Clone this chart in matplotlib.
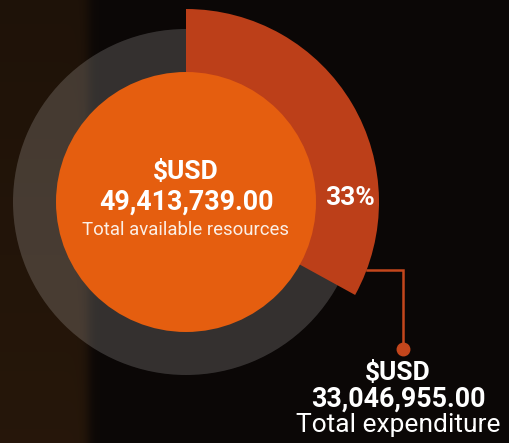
import numpy as np
import matplotlib
matplotlib.use("Agg")
import matplotlib.pyplot as plt
from matplotlib.patches import Circle

# ---- data ----
share_labels = ["Total expenditure", "Remaining"]
share_pct = [33, 67]
center_lines = ["$USD", "49,413,739.00", "Total available resources"]
callout_lines = ["$USD", "33,046,955.00", "Total expenditure"]
pct_label = "33%"

# ---- styling ----
W, H = 510, 443
C_WEDGE = "#BC3F19"
C_INNER = "#E55E0F"
C_LINE = "#C4461C"
FONT = "Roboto"

fig = plt.figure(figsize=(W / 100, H / 100), dpi=100)
ax = fig.add_axes([0, 0, 1, 1])

# background (dark photo-like backdrop)
xx = np.arange(W)[None, :]
yy = np.arange(H)[:, None]
base = np.array([0.045, 0.03, 0.025])
brown = np.array([0.15, 0.09, 0.04])
left = 1 / (1 + np.exp((xx - 88) / 3.0))
grad = 0.8 + 0.2 * (yy / H)
bg = base * (1 - left[..., None]) + (brown * grad[..., None]) * left[..., None]
bg = np.clip(bg, 0, 1)
ax.imshow(bg, extent=[0, W, 0, H], origin="upper", zorder=0)

cx, cy = 186, H - 202
r_outer, r_ring, r_inner = 193, 173, 130

# gray translucent ring
ax.pie([100], radius=r_ring, center=(cx, cy), colors=["white"],
       wedgeprops=dict(alpha=0.17, linewidth=0), startangle=90, frame=True)
# expenditure wedge
wedges, _ = ax.pie(share_pct, radius=r_outer, center=(cx, cy),
                   colors=[C_WEDGE, "none"], startangle=90, counterclock=False,
                   wedgeprops=dict(linewidth=0), frame=True)
ax.set_xlim(0, W)
ax.set_ylim(0, H)
ax.set_aspect("equal")
ax.axis("off")

# inner circle
ax.add_patch(Circle((cx, cy), r_inner, color=C_INNER, lw=0, zorder=5))

# center text
ax.text(cx, H - 172, center_lines[0], ha="center", va="center", color="white",
        fontsize=19, fontweight="bold", family=FONT, zorder=6)
ax.text(cx, H - 202, center_lines[1], ha="center", va="center", color="white",
        fontsize=19.3, fontweight="bold", family=FONT, zorder=6)
ax.text(cx, H - 230, center_lines[2], ha="center", va="center", color="#FBEFE6",
        fontsize=13.4, family=FONT, zorder=6)

# percentage label
ax.text(350, H - 198, pct_label, ha="center", va="center", color="white",
        fontsize=19, fontweight="bold", family=FONT, zorder=6)

# leader line
ang = np.deg2rad(-20.6)
sx, sy = cx + r_outer * np.cos(ang), cy + r_outer * np.sin(ang)
ax.plot([sx, 403, 403], [sy, sy, H - 349], color=C_LINE, lw=1.8, zorder=6,
        solid_joinstyle="miter")
ax.plot([403], [H - 349], "o", color=C_LINE, ms=9, zorder=7)

# callout text
ax.text(398, H - 373, callout_lines[0], ha="center", va="center", color="white",
        fontsize=19, fontweight="bold", family=FONT, zorder=6)
ax.text(398, H - 399, callout_lines[1], ha="center", va="center", color="white",
        fontsize=19.3, fontweight="bold", family=FONT, zorder=6)
ax.text(398, H - 425, callout_lines[2], ha="center", va="center", color="white",
        fontsize=19, family=FONT, zorder=6)

fig.savefig("out.png", dpi=100, facecolor="black")
